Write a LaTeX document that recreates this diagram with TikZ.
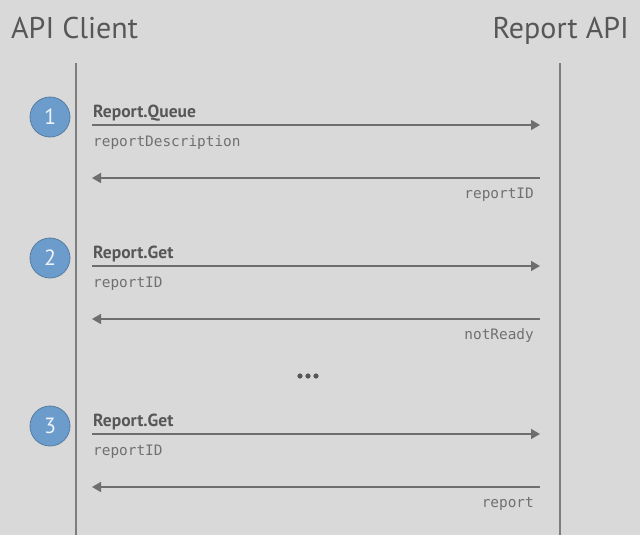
\documentclass[tikz,border=0pt]{standalone}
\usepackage{fontspec}
\setmainfont{PT Sans}
\setmonofont{DejaVu Sans Mono}
\usepackage{xcolor}
\usetikzlibrary{arrows.meta, positioning}

\definecolor{canvas}{HTML}{D9D9D9}
\definecolor{ink}{HTML}{575757}
\definecolor{lineink}{HTML}{6E6E6E}
\definecolor{badgeblue}{HTML}{6C9CCB}

\begin{document}
\begin{tikzpicture}[
			x=1pt, y=-1pt,
			title/.style={
				font=\fontsize{30}{30}\selectfont, text=ink, inner sep=0pt
			},
			lifeline/.style={
				line width=1.3pt, draw=lineink!90
			},
			msg/.style={
				-{Triangle[length=9pt,width=10pt]},
				line width=1.5pt, draw=lineink
			},
			reply/.style={
				{Triangle[length=9pt,width=10pt]}-,
				line width=1.5pt, draw=lineink
			},
			callname/.style={
				font=\fontsize{17.5}{17.5}\selectfont\bfseries, text=ink,
				anchor=base west, inner sep=0pt
			},
			argname/.style={
				font=\fontsize{14.4}{14.4}\selectfont\ttfamily, text=ink!85,
				anchor=base #1, inner sep=0pt
			},
			badge/.style={
				circle, minimum size=40pt, inner sep=0pt,
				fill=badgeblue, draw=badgeblue!80!black, line width=0.8pt,
				text=white!88!badgeblue, font=\fontsize{22}{22}\selectfont
			}
			]
			
			% Background
			\fill[canvas] (0,0) rectangle (640,535);
			
			% Participants
			\node[title, anchor=base west] (client) at (11,38) {API Client};
			\node[title, anchor=base east] (api)    at (629,38) {Report API};
			
			\coordinate (ctop) at (76,63);
			\coordinate (cbot) at (76,535);
			\coordinate (atop) at (560,63);
			\coordinate (abot) at (560,535);
			\draw[lifeline] (ctop) -- (cbot);
			\draw[lifeline] (atop) -- (abot);
			
			% Step 1
			\node[badge] (b1) at (50,117) {1};
			\coordinate (q1s) at (92,125);
			\coordinate (q1e) at (540,125);
			\coordinate (r1s) at (540,178);
			\coordinate (r1e) at (92,178);
			\draw[msg]   (q1s) -- (q1e);
			\draw[reply] (r1e) -- (r1s);
			\node[callname] (c1) at (93,117) {Report.Queue};
			\node[argname=west] (a1) at (93,146) {reportDescription};
			\node[argname=east] (v1) at (534,198) {reportID};
			
			% Step 2
			\node[badge] (b2) at (50,258) {2};
			\coordinate (q2s) at (92,266);
			\coordinate (q2e) at (540,266);
			\coordinate (r2s) at (540,319);
			\coordinate (r2e) at (92,319);
			\draw[msg]   (q2s) -- (q2e);
			\draw[reply] (r2e) -- (r2s);
			\node[callname] (c2) at (93,258) {Report.Get};
			\node[argname=west] (a2) at (93,287) {reportID};
			\node[argname=east] (v2) at (534,339) {notReady};
			
			% Gap
			\foreach \dx in {-8,0,8}
				\fill[ink] (308+\dx,376) circle (2.6pt);
			
			% Step 3
			\node[badge] (b3) at (50,426) {3};
			\coordinate (q3s) at (92,434);
			\coordinate (q3e) at (540,434);
			\coordinate (r3s) at (540,487);
			\coordinate (r3e) at (92,487);
			\draw[msg]   (q3s) -- (q3e);
			\draw[reply] (r3e) -- (r3s);
			\node[callname] (c3) at (93,426) {Report.Get};
			\node[argname=west] (a3) at (93,455) {reportID};
			\node[argname=east] (v3) at (534,507) {report};
			
		\end{tikzpicture}
\end{document}
